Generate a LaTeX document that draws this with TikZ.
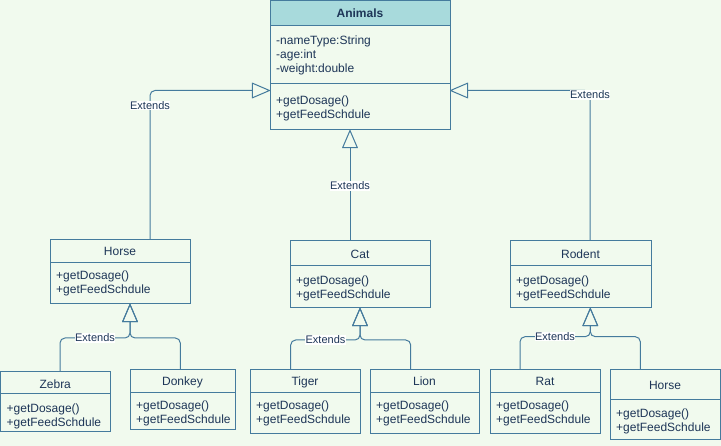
\documentclass[tikz,border=0pt]{standalone}
\usepackage{fontspec}
\setmainfont{Liberation Sans}
\usetikzlibrary{arrows.meta}

\definecolor{bgmint}{HTML}{F1FAEE}
\definecolor{stroke}{HTML}{457B9D}
\definecolor{headfill}{HTML}{A8DADC}
\definecolor{ink}{HTML}{1D3557}

\tikzset{
  classbox/.style={draw=stroke, line width=1pt, anchor=north west, inner sep=0pt, outer sep=0pt},
  divider/.style={draw=stroke, line width=1pt},
  classtitle/.style={text=ink, font=\fontsize{12}{14}\selectfont, inner sep=0pt, anchor=base},
  member/.style={text=ink, font=\fontsize{12}{14}\selectfont, inner sep=0pt, anchor=base west},
  ext/.style={draw=stroke, line width=1pt, rounded corners=5pt,
    -{Triangle[open, length=19pt, width=16pt, line width=1pt, round]}},
  extlabel/.style={fill=white, text=ink, font=\fontsize{11}{12}\selectfont, inner sep=0.6pt},
}

% \umlclass{name}{left}{top}{right}{bottom}{divider y}{title}{title centre y}{first member centre y}
\newcommand\umlclass[9]{%
  \node[classbox, minimum width={#4-#2}, minimum height={#5-#3}] (#1) at (#2,#3) {};
  \draw[divider] (#2,#6) -- (#4,#6);
  \node[classtitle] (#1-title) at ({(#2+#4)/2},{#8+4.3}) {#7};
  \node[member] (#1-m1) at ({#2+6},{#9+4.3}) {+getDosage()};
  \node[member] (#1-m2) at ({#2+6},{#9+18.3}) {+getFeedSchdule};
}

\begin{document}
\begin{tikzpicture}[x=1pt, y=-1pt]
  \fill[bgmint] (0,0) rectangle (721,446);
  \useasboundingbox (0,0) rectangle (721,446);

  % base class
  \fill[headfill] (270,0.5) rectangle (450,26);
  \node[classbox, minimum width=180, minimum height=129.5] (animals) at (270,0.5) {};
  \draw[divider] (270,26) -- (450,26);
  \draw[divider] (270,84) -- (450,84);
  \node[classtitle, font=\bfseries\fontsize{12}{14}\selectfont] (animals-title) at (360,17.3) {Animals};
  \node[member] (animals-a1) at (276,44.3) {-nameType:String};
  \node[member] (animals-a2) at (276,58.3) {-age:int};
  \node[member] (animals-a3) at (276,72.3) {-weight:double};
  \node[member] (animals-m1) at (276,104.6) {+getDosage()};
  \node[member] (animals-m2) at (276,118.6) {+getFeedSchdule};

  % second level
  \umlclass{horse}{50}{240}{190}{304}{263}{Horse}{251.7}{275.3}
  \umlclass{cat}{290}{240.5}{430}{308}{266}{Cat}{254}{280}
  \umlclass{rodent}{510}{240.5}{651}{308}{266}{Rodent}{254}{280}

  % third level
  \umlclass{zebra}{0.5}{372}{110}{432}{394}{Zebra}{384}{408.3}
  \umlclass{donkey}{130}{370}{235}{430}{393}{Donkey}{381.7}{405}
  \umlclass{tiger}{250}{370}{360}{434}{393}{Tiger}{381.7}{405}
  \umlclass{lion}{370}{370}{479}{434}{393}{Lion}{381.7}{405}
  \umlclass{rat}{490}{370}{600}{434}{393}{Rat}{381.7}{405}
  \umlclass{horsetwo}{610}{370}{720}{440}{400}{Horse}{385.7}{413.3}

  % inheritance into Animals
  \coordinate (hA) at (150,90.5);
  \coordinate (cA) at (350,130);
  \coordinate (rA) at (590,90.5);
  \draw[ext] (horse.north -| hA) |- (animals.west |- hA);
  \draw[ext] (cat.north -| cA) -- (animals.south -| cA);
  \draw[ext] (rodent.north -| rA) |- (animals.east |- rA);
  \node[extlabel] (lbl-horse) at (150,105.5) {Extends};
  \node[extlabel] (lbl-cat) at (350,186) {Extends};
  \node[extlabel] (lbl-rodent) at (590,95) {Extends};

  % inheritance into Horse
  \coordinate (hJ) at (130,338);
  \coordinate (zbX) at (60,0);
  \coordinate (dkX) at (180.3,0);
  \draw[ext] (zebra.north -| zbX) |- (hJ) -- (horse.south -| hJ);
  \draw[ext] (donkey.north -| dkX) |- (hJ) -- (horse.south -| hJ);
  \node[extlabel] (lbl-zebra) at (95,338) {Extends};

  % inheritance into Cat
  \coordinate (cJ) at (360,340);
  \coordinate (tgX) at (290.7,0);
  \coordinate (lnX) at (410.7,0);
  \draw[ext] (tiger.north -| tgX) |- (cJ) -- (cat.south -| cJ);
  \draw[ext] (lion.north -| lnX) |- (cJ) -- (cat.south -| cJ);
  \node[extlabel] (lbl-tiger) at (325.5,340) {Extends};

  % inheritance into Rodent
  \coordinate (rJ) at (590.3,336.7);
  \coordinate (rtX) at (520,0);
  \coordinate (h2X) at (640.3,0);
  \draw[ext] (rat.north -| rtX) |- (rJ) -- (rodent.south -| rJ);
  \draw[ext] (horsetwo.north -| h2X) |- (rJ) -- (rodent.south -| rJ);
  \node[extlabel] (lbl-rat) at (555,336.7) {Extends};
\end{tikzpicture}
\end{document}
